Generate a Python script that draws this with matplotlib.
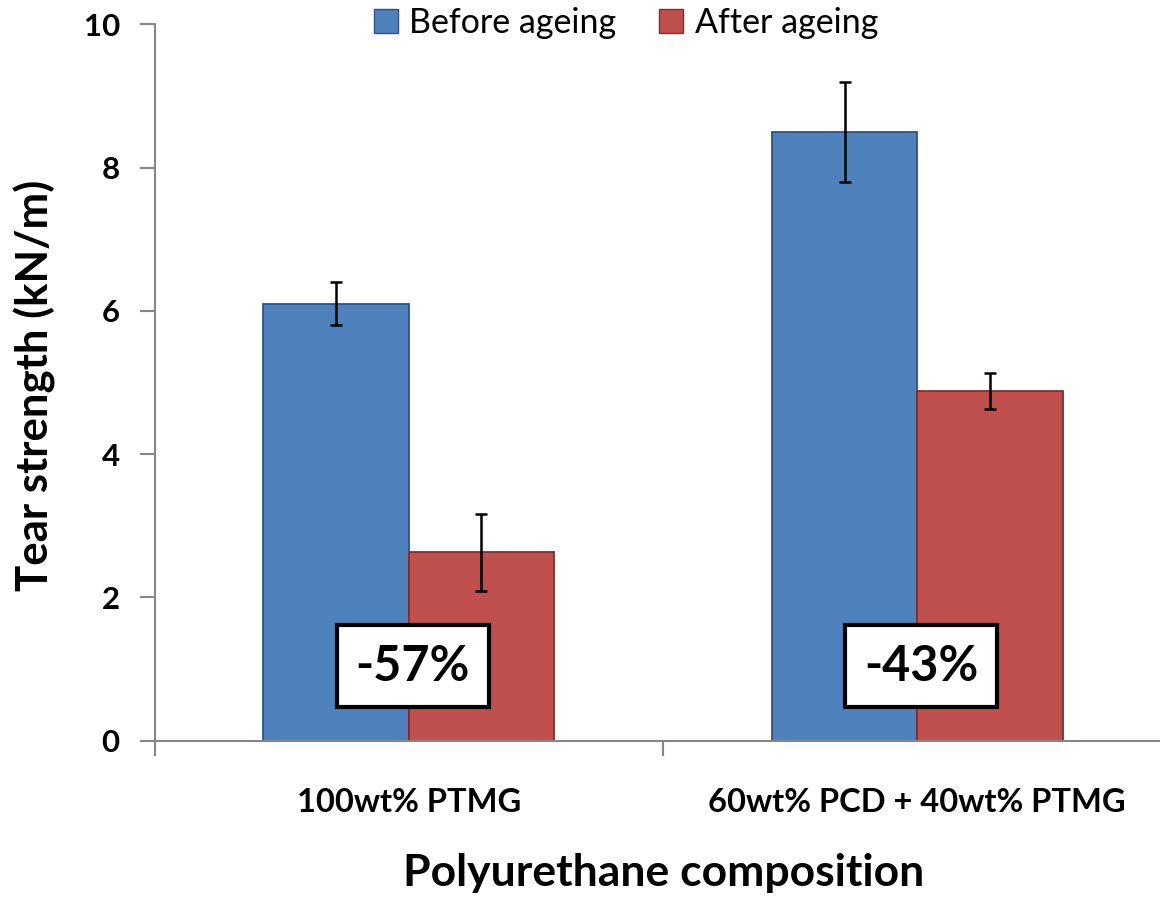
import numpy as np
import matplotlib
matplotlib.use("Agg")
import matplotlib.pyplot as plt
import matplotlib.patches as mpatches

# ---- data ----
categories = ["100wt% PTMG", "60wt% PCD + 40wt% PTMG"]
before = [6.10, 8.50]
before_err = [0.30, 0.70]
after = [2.63, 4.88]
after_err = [0.54, 0.25]
changes = ["-57%", "-43%"]

plt.rcParams["font.family"] = ["Lato", "DejaVu Sans"]

W, H = 1160, 897
fig = plt.figure(figsize=(W / 100, H / 100), dpi=100)
# axes box in pixels (left, bottom, right, top), right side runs past the picture edge
x0, y0, x1, y1 = 154.5, 740.5, 1171.5, 24.5
ax = fig.add_axes([x0 / W, 1 - y0 / H, (x1 - x0) / W, (y0 - y1) / H])

x = np.arange(len(categories))
w = 1 / 3.5  # excel gap width 150%
blue, blue_edge = "#4f81bd", "#2c5383"
red, red_edge = "#c0504d", "#7f2f2d"
err_kw = dict(ecolor="black", elinewidth=1.8, capsize=4.6, capthick=1.8)

ax.bar(x - w / 2, before, w, yerr=before_err, color=blue, edgecolor=blue_edge,
       linewidth=1.3, error_kw=err_kw, label="Before ageing", zorder=2)
ax.bar(x + w / 2, after, w, yerr=after_err, color=red, edgecolor=red_edge,
       linewidth=1.3, error_kw=err_kw, label="After ageing", zorder=2)

# change labels in boxes
for xi, txt in zip(x, changes):
    ax.text(xi + 0.008, 1.04, txt, ha="center", va="center", fontsize=35,
            fontweight="bold", zorder=4,
            bbox=dict(boxstyle="square,pad=0.39", fc="white", ec="black", lw=3))

# axes styling
ax.set_xlim(-0.5, 1.5)
ax.set_ylim(0, 10)
ax.set_yticks(np.arange(0, 11, 2))
ax.set_xticks(x)
ax.set_xticklabels(categories, fontsize=23.5, fontweight="bold")
ax.set_xticks([-0.5, 0.5, 1.5], minor=True)
ax.tick_params(axis="x", which="major", length=0, pad=34)
ax.tick_params(axis="x", which="minor", length=11, width=1.5, color="#868686", direction="out")
ax.tick_params(axis="y", length=11, width=1.5, color="#868686", direction="out",
               labelsize=22.5, pad=14)
for lab in ax.get_yticklabels():
    lab.set_fontweight("bold")
for s in ["top", "right"]:
    ax.spines[s].set_visible(False)
for s in ["left", "bottom"]:
    ax.spines[s].set_color("#868686")
    ax.spines[s].set_linewidth(1.5)

ax.set_ylabel("Tear strength (kN/m)", fontsize=31.5, fontweight="bold")
ax.yaxis.set_label_coords(-(x0 - 35) / (x1 - x0), (y0 - 385) / (y0 - y1))
ax.yaxis.label.set_va("center")
ax.set_xlabel("Polyurethane composition", fontsize=32, fontweight="bold")
ax.xaxis.set_label_coords((663.5 - x0) / (x1 - x0), -(873 - y0) / (y0 - y1))
ax.xaxis.label.set_va("center")

handles = [mpatches.Patch(facecolor=blue, edgecolor=blue_edge, label="Before ageing"),
           mpatches.Patch(facecolor=red, edgecolor=red_edge, label="After ageing")]
fig.legend(handles=handles, loc="center", bbox_to_anchor=(626 / W, 1 - 23 / H),
           ncol=2, frameon=False, fontsize=24.5, handlelength=0.7, handleheight=0.7,
           handletextpad=0.35, columnspacing=1.25)

fig.savefig("out.png", dpi=100)
